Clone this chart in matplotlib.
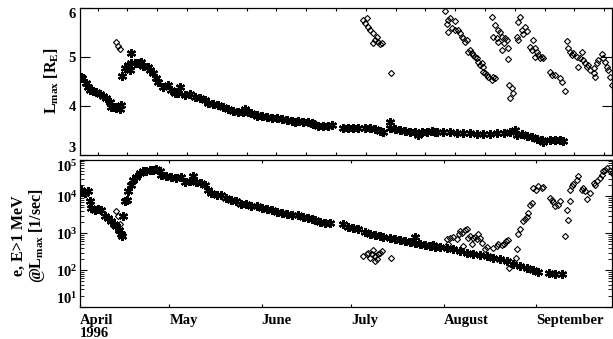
import numpy as np
import matplotlib
matplotlib.use("Agg")
import matplotlib.pyplot as plt
from matplotlib.ticker import LogLocator, FuncFormatter, NullFormatter, FixedLocator

plt.rcParams['font.family'] = ['Liberation Serif', 'DejaVu Serif']
plt.rcParams['font.weight'] = 'bold'
plt.rcParams['mathtext.fontset'] = 'custom'
plt.rcParams['mathtext.rm'] = 'Liberation Serif:bold'
plt.rcParams['mathtext.bf'] = 'Liberation Serif:bold'
plt.rcParams['mathtext.it'] = 'Liberation Serif:bold'
plt.rcParams['mathtext.default'] = 'bf'

# ---------------- data (x = days since 1996-04-01) ----------------
month_days = [0, 30, 61, 91, 122, 153]
month_labels = ["April\n1996", "May", "June", "July", "August", "September"]

# Top panel: Lmax of flux maximum (asterisks)
top_star_day = [0.2, 0.7, 2.1, 2.7, 3.2, 4.4, 5.5, 6.6, 7.7, 8.8, 10.0, 10.5, 11.6, 12.2, 13.3, 13.9, 14.2,
                15.0, 16.1, 16.7, 17.0, 17.2, 18.3, 19.5, 20.6, 21.1, 22.8, 23.4, 24.5, 25.6, 26.2, 27.9,
                29.5, 30.6, 31.8, 32.9, 33.4, 35.1, 36.8, 38.5, 40.2, 41.8, 43.0, 44.6, 46.3, 48.0, 49.7,
                51.3, 53.0, 54.7, 55.3, 56.4, 57.5, 59.4,
                59.3, 61.0, 62.6, 64.3, 66.0, 67.7, 69.3, 71.0, 72.1, 73.3, 74.9, 76.6, 77.7,
                78.3, 80.0, 81.6, 83.3, 84.4, 88.4, 90.0, 91.7, 93.4, 95.6, 97.3, 99.0, 100.7, 101.8,
                104.0, 104.0, 105.7, 107.4, 109.1, 110.7, 112.4, 113.5, 114.6, 116.3, 118.0, 119.1,
                119.7, 121.9, 124.2, 126.4, 128.6, 130.9, 133.1, 135.3, 137.6, 139.8, 142.1, 144.3,
                146.0, 146.5, 148.2, 149.9, 151.6, 153.2, 154.9, 155.5, 157.7, 159.4, 161.1, 162.0]
top_star_L = [4.59, 4.56, 4.47, 4.39, 4.32, 4.29, 4.27, 4.23, 4.20, 4.15, 4.07, 3.98, 3.98, 3.95, 3.93, 4.01, 4.61,
              4.76, 4.84, 4.73, 5.07, 4.865, 4.865, 4.865, 4.885, 4.82, 4.78, 4.73, 4.66, 4.57, 4.49, 4.39,
              4.42, 4.32, 4.25, 4.25, 4.39, 4.22, 4.23, 4.185, 4.15, 4.12, 4.05, 4.03, 4.015, 3.98, 3.93,
              3.89, 3.865, 3.88, 3.93, 3.865, 3.845, 3.78,
              3.81, 3.79, 3.775, 3.74, 3.74, 3.72, 3.71, 3.69, 3.675, 3.69, 3.675, 3.66, 3.64,
              3.62, 3.59, 3.59, 3.59, 3.60, 3.55, 3.55, 3.54, 3.55, 3.54, 3.55, 3.525, 3.48, 3.47,
              3.66, 3.54, 3.525, 3.50, 3.48, 3.47, 3.455, 3.40, 3.47, 3.455, 3.48, 3.47,
              3.455, 3.47, 3.455, 3.45, 3.435, 3.435, 3.415, 3.415, 3.42, 3.435, 3.45, 3.47,
              3.50, 3.40, 3.415, 3.39, 3.37, 3.33, 3.30, 3.265, 3.30, 3.30, 3.30, 3.28]

# Top panel: diamonds
top_dia_day = [12.2, 12.7, 13.3,
               95.1, 96.2, 95.6, 96.7, 97.3, 98.4, 99.6, 99.0, 98.4, 100.1, 100.7, 101.2, 104.4,
               122.5, 123.6, 123.0, 124.2, 125.8, 123.6, 124.7, 125.8, 126.9, 127.5, 128.1, 128.6, 129.2,
               129.8, 130.3, 130.9, 131.4, 132.0, 132.6, 133.1, 133.7, 134.2, 134.8, 135.3, 135.3, 135.9,
               136.5, 137.0, 138.1, 138.7, 139.3,
               138.1, 139.3, 140.4, 141.0, 138.7, 139.8, 141.5, 142.6, 143.2, 140.4, 142.1, 141.5, 143.7,
               143.7, 144.1, 144.9, 145.4, 144.3,
               147.7, 147.1, 149.3, 148.2, 149.9, 148.8, 146.5, 147.1, 152.1, 151.0, 151.6, 152.7, 153.2,
               153.8, 152.7, 154.4, 155.5, 154.9,
               157.7, 158.3, 159.4, 161.1, 161.6, 162.8,
               163.3, 163.9, 164.4, 165.0, 165.5, 166.7, 167.2, 168.3, 167.8, 168.9, 169.5, 170.0, 170.6,
               171.1, 172.3, 172.8, 172.3, 173.4, 173.9, 175.1, 175.6, 176.2, 176.7, 177.3, 177.8, 178.4]
top_dia_L = [5.29, 5.22, 5.15,
             5.75, 5.78, 5.68, 5.61, 5.55, 5.48, 5.41, 5.34, 5.27, 5.31, 5.25, 5.27, 4.67,
             5.93, 5.75, 5.66, 5.78, 5.73, 5.51, 5.58, 5.54, 5.54, 5.48, 5.41, 5.38, 5.31,
             5.34, 5.10, 5.14, 5.07, 5.03, 5.00, 4.97, 4.90, 4.83, 4.87, 4.80, 4.69, 4.66,
             4.63, 4.59, 4.52, 4.59, 4.57,
             5.82, 5.65, 5.545, 5.51, 5.41, 5.375, 5.41, 5.375, 5.34, 5.31, 5.27, 5.14, 5.17,
             4.95, 4.42, 4.355, 4.25, 4.16,
             5.82, 5.70, 5.61, 5.545, 5.525, 5.46, 5.41, 5.34, 5.34, 5.205, 5.14, 5.17, 5.10,
             5.035, 5.00, 4.97, 4.97, 5.00,
             4.695, 4.63, 4.63, 4.56, 4.49, 4.29,
             5.32, 5.185, 5.10, 5.035, 5.07, 5.00, 4.80, 5.10, 4.97, 4.93, 4.865, 4.80, 4.83,
             4.73, 4.66, 4.59, 4.76, 4.865, 4.93, 5.05, 4.97, 4.90, 4.80, 4.73, 4.59, 4.42]

# Bottom panel: log10 of e- (E>1 MeV) count rate at Lmax [1/sec], asterisks
bot_star_day = [0.0, 0.45, 1.57, 2.7, 3.25, 3.8, 4.9, 6.0, 7.2, 8.3, 9.4, 10.5, 11.4, 12.2, 13.0, 13.6, 14.1, 14.4,
                15.0, 15.9, 16.1, 17.0, 17.8, 18.9, 20.0, 21.1, 22.3, 23.4, 24.5, 25.6, 26.7, 27.3, 29.0,
                30.6, 32.3, 34.0, 35.1, 36.8, 37.9, 39.0, 40.7, 41.8, 43.0, 44.1, 45.8, 47.4, 49.1, 50.8,
                52.5, 54.1, 55.8, 57.5, 59.5,
                59.3, 61.0, 62.6, 64.3, 66.0, 67.7, 69.3, 71.0, 73.3, 74.9, 76.6, 77.7,
                78.9, 80.5, 82.2, 83.9, 88.4, 90.0, 91.7, 93.4, 95.6, 97.3, 99.0, 100.7, 101.8,
                104.0, 105.7, 107.4, 109.1, 110.7, 112.4, 112.4, 114.1, 115.8, 117.4, 119.1,
                118.6, 120.8, 123.0, 125.3, 127.5, 129.8, 132.0, 134.2, 136.5, 138.7, 141.0, 143.2,
                145.4, 147.7, 149.9, 152.1, 153.8, 157.5, 159.4, 161.6]
bot_star_log10 = [4.14, 4.185, 4.095, 4.14, 3.87, 3.69, 3.64, 3.67, 3.62, 3.46, 3.42, 3.33, 3.26, 3.19, 3.10, 2.99, 2.92, 3.46,
                  3.87, 3.91, 4.14, 4.32, 4.455, 4.52, 4.635, 4.68, 4.70, 4.725, 4.725, 4.75, 4.68, 4.59, 4.545,
                  4.52, 4.50, 4.52, 4.39, 4.41, 4.545, 4.39, 4.365, 4.32, 4.185, 4.095, 4.05, 4.05, 3.96, 3.914,
                  3.87, 3.80, 3.78, 3.735, 3.735,
                  3.735, 3.69, 3.67, 3.62, 3.58, 3.554, 3.527, 3.49, 3.49, 3.437, 3.419, 3.374,
                  3.347, 3.311, 3.284, 3.284, 3.24, 3.167, 3.13, 3.104, 3.04, 2.986, 2.95, 2.923, 2.896,
                  2.878, 2.833, 2.806, 2.788, 2.77, 2.896, 2.743, 2.716, 2.68, 2.653, 2.626,
                  2.68, 2.626, 2.59, 2.563, 2.518, 2.473, 2.446, 2.41, 2.383, 2.338, 2.293, 2.248,
                  2.176, 2.113, 2.05, 1.995, 1.96, 1.932, 1.887, 1.905]

# Bottom panel: diamonds
bot_dia_day = [12.2, 12.7, 13.3,
               95.1, 96.2, 96.7, 97.9, 98.4, 97.3, 99.0, 99.5, 100.1, 100.7, 101.2, 99.0, 104.4,
               123.0, 123.6, 124.2, 125.3, 126.4, 127.0, 127.5, 128.1, 128.6, 129.2, 129.8, 130.3, 130.9,
               131.4, 132.0, 132.6, 133.1, 133.7, 134.2, 134.8, 135.9, 136.5, 138.7, 139.8, 140.4, 141.5,
               142.1, 143.0, 143.7, 144.1, 146.5, 146.3,
               147.1, 147.7, 148.8, 149.3, 149.9, 150.4, 151.0, 151.6, 152.1, 153.0, 153.8, 154.9, 155.5,
               157.7, 158.3, 158.8, 159.4, 160.5, 161.1, 162.8, 163.3, 163.6, 164.4, 164.4, 165.0, 165.5,
               166.7, 167.2, 168.3, 168.9, 169.5, 170.0, 171.1, 172.3, 172.8, 173.4, 174.5, 175.1, 175.6,
               176.2, 176.7, 177.8, 178.4]
bot_dia_log10 = [3.60, 3.46, 3.26,
                 2.383, 2.428, 2.473, 2.428, 2.536, 2.338, 2.383, 2.293, 2.428, 2.473, 2.518, 2.248, 2.32,
                 2.833, 2.716, 2.878, 2.896, 2.833, 2.968, 3.058, 3.013, 2.653, 3.077, 3.104, 2.878, 2.923,
                 2.698, 2.878, 2.896, 2.833, 2.968, 2.878, 2.743, 2.563, 2.626, 2.608, 2.653, 2.698, 2.680,
                 2.716, 2.788, 2.806, 2.068, 2.563, 2.338,
                 2.968, 3.104, 3.329, 3.374, 3.437, 3.554, 3.779, 3.824, 4.230, 4.185, 4.275, 4.230, 4.248,
                 3.959, 3.914, 3.842, 3.734, 3.779, 3.869, 2.923, 3.644, 3.347, 3.887, 4.185, 4.275, 4.338,
                 4.455, 4.545, 4.185, 4.230, 4.140, 3.932, 4.095, 4.365, 4.320, 4.410, 4.500, 4.590, 4.680,
                 4.725, 4.770, 4.680, 4.635]

top_minor_ticks = list(np.arange(5.9, 179, 10.0))

# ---------------- figure ----------------
W, H = 613, 339
fig = plt.figure(figsize=(W / 100, H / 100), dpi=100)

def ax_rect(x0, y0, x1, y1):
    return [x0 / W, 1 - y1 / H, (x1 - x0) / W, (y1 - y0) / H]

ax1 = fig.add_axes(ax_rect(80, 7.7, 612, 154.7))
ax2 = fig.add_axes(ax_rect(80, 159.5, 612, 307))

xmin, xmax = 0, 178.5
star_kw = dict(ls='none', marker=(6, 2, 0), ms=6.5, mew=1.6, color='black')
dia_kw = dict(ls='none', marker='D', ms=3.1, mew=0.8, mfc='none', mec='black')

ax1.plot(top_star_day, top_star_L, **star_kw)
ax1.plot(top_dia_day, top_dia_L, **dia_kw)
ax1.set_xlim(xmin, xmax)
ax1.set_ylim(3, 6)
ax1.set_yticks([3, 4, 5, 6])
ax1.set_yticklabels(['3', '4', '5', '6'], fontsize=10.5, fontweight='bold')
ax1.xaxis.set_major_locator(FixedLocator(top_minor_ticks))
ax1.xaxis.set_major_formatter(NullFormatter())
ax1.tick_params(axis='y', which='major', direction='in', length=7.5, width=0.8,
                left=True, right=True, pad=3)
ax1.tick_params(axis='x', which='major', direction='in', length=2.3, width=0.8,
                top=True, bottom=True)

ax2.plot(bot_star_day, 10 ** np.array(bot_star_log10), **star_kw)
ax2.plot(bot_dia_day, 10 ** np.array(bot_dia_log10), **dia_kw)
ax2.set_yscale('log')
ax2.set_xlim(xmin, xmax)
ax2.set_ylim(10, 1e5)
ax2.set_yticks([1e1, 1e2, 1e3, 1e4, 1e5])
ax2.set_yticklabels([r'$\mathbf{10^{%d}}$' % k for k in [1, 2, 3, 4, 5]], fontsize=10.5)
ax2.yaxis.set_minor_locator(LogLocator(base=10, subs=np.arange(2, 10), numticks=20))
ax2.yaxis.set_minor_formatter(NullFormatter())
ax2.set_xticks(month_days)
ax2.set_xticklabels(month_labels, fontsize=10.5, fontweight='bold', ha='left',
                    linespacing=1.0, va='top')
ax2.tick_params(axis='y', which='major', direction='in', length=5, width=0.8,
                left=True, right=True, pad=2)
ax2.tick_params(axis='y', which='minor', direction='in', length=3, width=0.6,
                left=True, right=True)
ax2.tick_params(axis='x', which='major', direction='in', length=2.3, width=0.8,
                top=True, bottom=True, pad=5)

# keep end labels inside the panel range (as in the reference)
t1 = ax1.get_yticklabels()
t1[0].set_va('bottom')
t1[-1].set_va('top')
t2 = ax2.get_yticklabels()
t2[0].set_va('bottom')
t2[-1].set_va('top')

for ax in (ax1, ax2):
    for s in ax.spines.values():
        s.set_linewidth(0.9)

fig.text(52 / W, 1 - 81 / H, r'L$_{\mathbf{max}}$ [R$_{\mathbf{E}}$]', rotation=90,
         ha='center', va='center', fontsize=11.5, fontweight='bold')
fig.text(29 / W, 1 - 236 / H, 'e, E>1 MeV\n' + r'@L$_{\mathbf{max}}$ [1/sec]', rotation=90,
         ha='center', va='center', fontsize=11.5, fontweight='bold', linespacing=1.0,
         multialignment='center')

fig.savefig('out.png', dpi=100)
